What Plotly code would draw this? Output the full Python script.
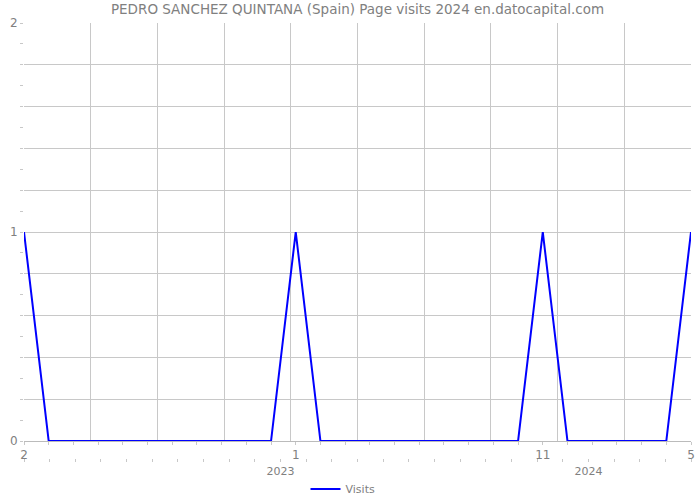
import plotly.graph_objects as go

# Monthly page visits, Feb 2022 .. May 2024
months = ["2022-02", "2022-03", "2022-04", "2022-05", "2022-06", "2022-07", "2022-08",
          "2022-09", "2022-10", "2022-11", "2022-12", "2023-01", "2023-02", "2023-03",
          "2023-04", "2023-05", "2023-06", "2023-07", "2023-08", "2023-09", "2023-10",
          "2023-11", "2023-12", "2024-01", "2024-02", "2024-03", "2024-04", "2024-05"]
visits = [1, 0, 0, 0, 0, 0, 0, 0, 0, 0, 0, 1, 0, 0, 0, 0, 0, 0, 0, 0, 0,
          1, 0, 0, 0, 0, 0, 1]
# labelled month ticks (index into months -> label)
month_tick_labels = {0: "2", 11: "1", 21: "11", 27: "5"}
# year labels on the secondary tick row (row of 27 ticks)
year_row_count = 27
year_labels = {10: "2023", 22: "2024"}
y_tick_vals = [0, 0.2, 0.4, 0.6, 0.8, 1, 1.2, 1.4, 1.6, 1.8, 2]
y_tick_text = ["0", "", "", "", "", "1", "", "", "", "", "2"]

idx = list(range(len(months)))
FONT = "DejaVu Sans"
GRID = "#c8c8c8"
TXT = "#808080"

fig = go.Figure()
fig.add_trace(go.Scatter(
    x=idx, y=visits, mode="lines", name="Visits",
    line=dict(color="#0000ff", width=2), cliponaxis=False,
    customdata=months, hovertemplate="%{customdata}: %{y}<extra></extra>"))
fig.add_trace(go.Scatter(x=[None], y=[None], xaxis="x3", yaxis="y",
                         showlegend=False, hoverinfo="skip"))

n = len(months) - 1
fig.update_layout(
    width=700, height=500,
    margin=dict(l=24, r=9, t=23, b=42, autoexpand=False),
    paper_bgcolor="white", plot_bgcolor="white",
    font=dict(family=FONT, color=TXT, size=12),
    title=dict(text="PEDRO SANCHEZ QUINTANA (Spain) Page visits 2024 en.datocapital.com",
               x=0.5, xanchor="center", xref="paper", y=0.981, yanchor="middle",
               font=dict(family=FONT, size=13.5, color="#808080")),
    xaxis=dict(
        range=[0, n], showgrid=False, zeroline=False, automargin=False,
        tickmode="array", tickvals=idx,
        ticktext=[month_tick_labels.get(i, "") for i in idx],
        ticks="outside", ticklen=3, tickcolor=GRID,
        showline=True, linecolor="#bbbbbb", linewidth=1,
        tickfont=dict(size=12, color=TXT),
        minor=dict(tickmode="linear", tick0=0, dtick=n / 10, showgrid=True,
                   gridcolor=GRID, gridwidth=1, ticks=""),
    ),
    xaxis3=dict(
        overlaying="x", anchor="free", position=0, automargin=False,
        range=[0, year_row_count - 1], showgrid=False, zeroline=False,
        showline=False, tickmode="array", tickvals=list(range(year_row_count)),
        ticktext=[year_labels.get(i, "") for i in range(year_row_count)],
        ticks="outside", ticklen=3, tickcolor=GRID,
        tickfont=dict(size=11, color=TXT),
    ),
    yaxis=dict(
        domain=[17 / 435, 1], range=[0, 2], zeroline=False, automargin=False,
        tickmode="array", tickvals=y_tick_vals, ticktext=y_tick_text,
        showgrid=True, gridcolor=GRID, gridwidth=1,
        ticks="outside", ticklen=3, tickcolor=GRID,
        tickfont=dict(size=12, color=TXT),
        minor=dict(tickmode="linear", tick0=0, dtick=0.1, ticks="outside",
                   ticklen=3, tickcolor=GRID, showgrid=False),
    ),
    showlegend=True,
    legend=dict(orientation="h", x=0.49, xanchor="center", xref="container",
                y=0.022, yanchor="middle", yref="container",
                font=dict(size=11, color="#808080")),
)

fig.write_html("out.html")
